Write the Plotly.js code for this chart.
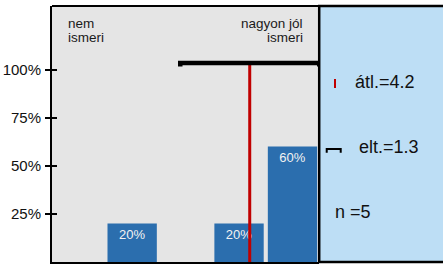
<!DOCTYPE html>
<html>
<head>
<meta charset="utf-8">
<script src="https://cdn.plot.ly/plotly-3.0.1.min.js"></script>
<style>html,body{margin:0;padding:0;background:#fff;}#chart{width:443px;height:264px;}</style>
</head>
<body>
<div id="chart"></div>
<script>
// Data
const categories = [1, 2, 3, 4, 5];
const shares = [0, 0.20, 0, 0.20, 0.60];
const barLabels = ["", "20%", "", "20%", "60%"];
const endLabelsLeft = ["nem", "ismeri"];
const endLabelsRight = ["nagyon jól", "ismeri"];
const yTickVals = [0.25, 0.5, 0.75, 1.0];
const yTickText = ["25%", "50%", "75%", "100%"];
const meanValue = 4.2;
const sdValue = 1.3;
const nValue = 5;
const statLevel = 1.034;   // height where the mean/sd markers sit
const legendTexts = ["átl.=4.2", "elt.=1.3", "n =5"];

const FONT = "Liberation Sans, Arial, sans-serif";
const YR = [0, 1.33];
const DOM = 0.6834;

const bars = {
  type: "bar", x: categories, y: shares, text: barLabels,
  textposition: "inside", insidetextanchor: "end",
  textfont: {family: FONT, size: 13, color: "#f2f2f2"},
  marker: {color: "#2b6eae", line: {width: 0}},
  xaxis: "x", yaxis: "y", hoverinfo: "skip", cliponaxis: false
};
const meanLine = {
  type: "scatter", mode: "lines", x: [meanValue, meanValue], y: [0, statLevel - 0.01],
  line: {color: "#c00000", width: 3}, xaxis: "x", yaxis: "y2", hoverinfo: "skip"
};
const sdLine = {
  type: "scatter", mode: "lines",
  x: [meanValue - sdValue, meanValue - sdValue, meanValue + sdValue, meanValue + sdValue],
  y: [statLevel - 0.018, statLevel, statLevel, statLevel - 0.018],
  line: {color: "#000", width: 4.5}, xaxis: "x", yaxis: "y2", hoverinfo: "skip", cliponaxis: false
};

const ann = [];
const baseAnn = {showarrow: false, font: {family: FONT, size: 13.5, color: "#1a1a1a"}};
ann.push(Object.assign({}, baseAnn, {xref: "paper", yref: "paper", x: 0.0358, y: 0.930, xanchor: "left", yanchor: "middle", text: endLabelsLeft[0]}));
ann.push(Object.assign({}, baseAnn, {xref: "paper", yref: "paper", x: 0.0358, y: 0.878, xanchor: "left", yanchor: "middle", text: endLabelsLeft[1]}));
ann.push(Object.assign({}, baseAnn, {xref: "paper", yref: "paper", x: 0.648, y: 0.930, xanchor: "right", yanchor: "middle", text: endLabelsRight[0]}));
ann.push(Object.assign({}, baseAnn, {xref: "paper", yref: "paper", x: 0.648, y: 0.878, xanchor: "right", yanchor: "middle", text: endLabelsRight[1]}));
const legFont = {family: FONT, size: 18, color: "#111"};
ann.push({showarrow: false, xref: "paper", yref: "paper", x: 0.7698, y: 0.7043, xanchor: "left", yanchor: "middle", text: legendTexts[0], font: legFont});
ann.push({showarrow: false, xref: "paper", yref: "paper", x: 0.7808, y: 0.4504, xanchor: "left", yanchor: "middle", text: legendTexts[1], font: legFont});
ann.push({showarrow: false, xref: "paper", yref: "paper", x: 0.7194, y: 0.1965, xanchor: "left", yanchor: "middle", text: legendTexts[2], font: legFont});

const shapes = [
  // right info panel
  {type: "rect", xref: "paper", yref: "paper", x0: DOM, x1: 1.02, y0: 0, y1: 1, fillcolor: "#bddef5", line: {color: "#000", width: 2.5}, layer: "below"},
  // top border
  {type: "line", xref: "paper", yref: "paper", x0: 0, x1: 1, y0: 1, y1: 1, line: {color: "#000", width: 2}},
  // legend marks
  {type: "line", xref: "paper", yref: "paper", x0: 0.7238, x1: 0.7238, y0: 0.6797, y1: 0.7148, line: {color: "#c00000", width: 2}},
  {type: "path", xref: "paper", yref: "paper", path: "M0.7026,0.427 L0.7026,0.4414 L0.7384,0.4414 L0.7384,0.427", line: {color: "#000", width: 2}}
];

const layout = {
  width: 443, height: 264,
  margin: {l: 52, r: 0, t: 6, b: 2, pad: 0},
  paper_bgcolor: "#ffffff", plot_bgcolor: "#e5e5e5",
  showlegend: false, bargap: 0.077,
  font: {family: FONT, size: 15, color: "#111"},
  xaxis: {domain: [0, DOM], range: [0.5, 5.5], showticklabels: false, ticks: "", showgrid: false, zeroline: false,
          showline: true, linecolor: "#000", linewidth: 2, fixedrange: true},
  yaxis: {range: YR, tickvals: yTickVals, ticktext: yTickText, ticks: "outside", ticklen: 5, tickwidth: 2, tickcolor: "#000",
          showgrid: false, zeroline: false, showline: true, linecolor: "#000", linewidth: 2,
          tickfont: {family: FONT, size: 15, color: "#111"}, ticklabelstandoff: 1, fixedrange: true},
  yaxis2: {overlaying: "y", side: "left", range: YR, tickvals: yTickVals, ticks: "inside", ticklen: 5, tickwidth: 2, tickcolor: "#000",
           showticklabels: false, showgrid: false, zeroline: false, showline: false, fixedrange: true},
  annotations: ann,
  shapes: shapes
};

Plotly.newPlot("chart", [bars, meanLine, sdLine], layout, {staticPlot: true, displayModeBar: false});
</script>
</body>
</html>
